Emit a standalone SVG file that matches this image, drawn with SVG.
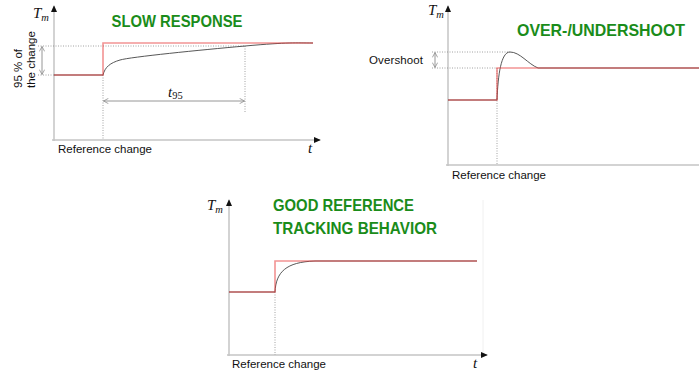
<svg xmlns="http://www.w3.org/2000/svg" width="699" height="374" viewBox="0 0 699 374">
<style>
.axis{stroke:#c4c4c4;stroke-width:1.5;fill:none}
.dot{stroke:#8a8a8a;stroke-width:0.8;stroke-dasharray:1 1.5;fill:none}
.dim{stroke:#8a8a8a;stroke-width:0.9;fill:none}
.resp{stroke:#444;stroke-width:0.9;fill:none}
.ref{stroke:#e83a3a;stroke-opacity:0.55;stroke-width:1.6;fill:none}
.lbl{font-family:"Liberation Sans",Arial,sans-serif;font-size:11.5px;fill:#111}
.math{font-family:"Liberation Serif","Times New Roman",serif;font-style:italic;fill:#111}
.title{font-family:"Liberation Sans",Arial,sans-serif;font-weight:bold;font-size:16.5px;fill:#1a8c1a}
</style>
<defs>
<marker id="ah" viewBox="0 0 8 8" refX="7" refY="4" markerWidth="7" markerHeight="7" markerUnits="userSpaceOnUse" orient="auto">
<path d="M0,0.5 L8,4 L0,7.5 Z" fill="#111"/>
</marker>
<marker id="ch" viewBox="0 0 8 8" refX="7.5" refY="4" markerWidth="6" markerHeight="6" markerUnits="userSpaceOnUse" orient="auto-start-reverse">
<path d="M1,0.5 L7.5,4 L1,7.5" fill="none" stroke="#8a8a8a" stroke-width="1"/>
</marker>
</defs>

<g id="panel-slow">
<line class="axis" x1="54" y1="141" x2="54" y2="6" marker-end="url(#ah)"/>
<line class="axis" x1="52" y1="140" x2="320" y2="140" marker-end="url(#ah)"/>
<text class="math" x="33" y="18" font-size="15">T<tspan font-size="10.5" dy="3">m</tspan></text>
<text class="math" x="308" y="153" font-size="15">t</text>
<line class="dot" x1="38" y1="46" x2="245" y2="46"/>
<line class="dot" x1="38" y1="75" x2="54" y2="75"/>
<line class="dot" x1="103" y1="75" x2="103" y2="140"/>
<line class="dot" x1="245" y1="46" x2="245" y2="113"/>
<line class="dim" x1="42" y1="46.5" x2="42" y2="74.5" marker-start="url(#ch)" marker-end="url(#ch)"/>
<line class="dim" x1="103.5" y1="101" x2="244.5" y2="101" marker-start="url(#ch)" marker-end="url(#ch)"/>
<text class="math" x="168" y="97" font-size="15">t<tspan font-style="normal" font-size="10.5" dy="2">95</tspan></text>
<text class="lbl" transform="translate(21.5,88) rotate(-90)"><tspan x="0" y="0">95 % of</tspan><tspan x="0" y="13">the change</tspan></text>
<path class="resp" d="M54,75 H103 C105,67 110,63 120,60 S200,50 245,46 S295,43 313,43"/>
<path class="ref" d="M54,75 H103 V43 H313"/>
<text class="lbl" x="58" y="153" textLength="94">Reference change</text>
<text class="title" x="111.5" y="27.3" textLength="131" lengthAdjust="spacingAndGlyphs">SLOW RESPONSE</text>
</g>

<g id="panel-overshoot">
<line class="axis" x1="448" y1="166" x2="448" y2="6" marker-end="url(#ah)"/>
<line class="axis" x1="446" y1="165" x2="699" y2="165"/>
<text class="math" x="428" y="15" font-size="15">T<tspan font-size="10.5" dy="3">m</tspan></text>
<line class="dot" x1="432" y1="52" x2="510" y2="52"/>
<line class="dot" x1="432" y1="68" x2="497" y2="68"/>
<line class="dot" x1="497" y1="68" x2="497" y2="165"/>
<line class="dim" x1="435" y1="52.5" x2="435" y2="67.5" marker-start="url(#ch)" marker-end="url(#ch)"/>
<text class="lbl" x="369" y="64" textLength="54">Overshoot</text>
<path class="resp" d="M448,100 H497 C498,75 501,52 510,52 C520,52 528,64 538,68 H699"/>
<path class="ref" d="M448,100 H497 V68 H699"/>
<text class="lbl" x="452" y="179" textLength="94">Reference change</text>
<text class="title" x="517" y="35.5" textLength="168" lengthAdjust="spacingAndGlyphs">OVER-/UNDERSHOOT</text>
</g>

<g id="panel-good">
<line x1="483" y1="200" x2="483" y2="355" stroke="#f0f0f0" stroke-width="1"/>
<line class="axis" x1="229" y1="356" x2="229" y2="200" marker-end="url(#ah)"/>
<line class="axis" x1="227" y1="355" x2="487" y2="355" marker-end="url(#ah)"/>
<text class="math" x="207" y="210" font-size="15">T<tspan font-size="10.5" dy="3">m</tspan></text>
<text class="math" x="473" y="368" font-size="15">t</text>
<line class="dot" x1="275" y1="292" x2="275" y2="355"/>
<path class="resp" d="M229,292 H275 C276,272 286,262 315,261 H477"/>
<path class="ref" d="M229,292 H275 V261 H477"/>
<text class="lbl" x="232" y="368" textLength="94">Reference change</text>
<text class="title" x="273" y="210.7" textLength="141" lengthAdjust="spacingAndGlyphs">GOOD REFERENCE</text>
<text class="title" x="273" y="233.7" textLength="164" lengthAdjust="spacingAndGlyphs">TRACKING BEHAVIOR</text>
</g>
</svg>
